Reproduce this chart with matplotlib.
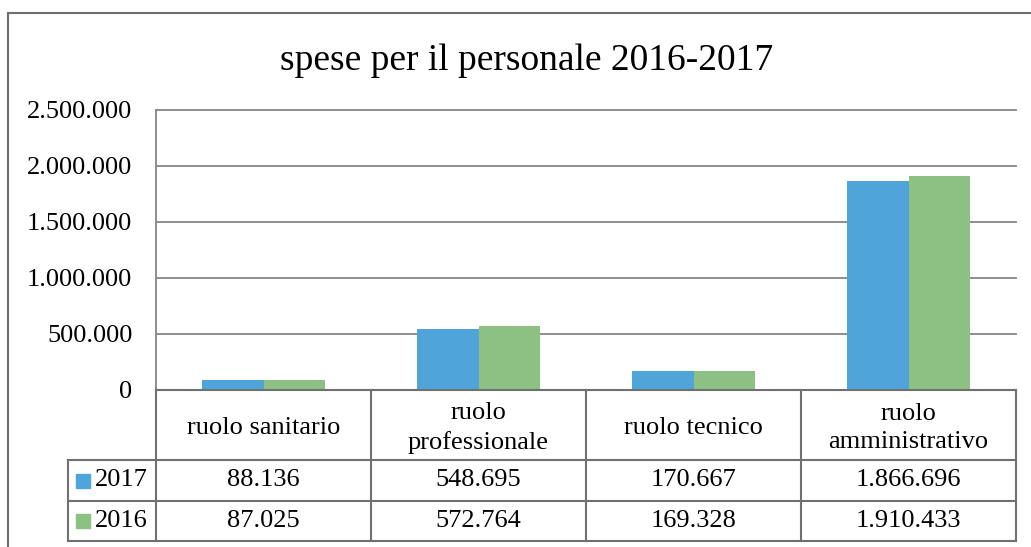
import matplotlib.pyplot as plt
from matplotlib.lines import Line2D
from matplotlib.patches import Rectangle
from matplotlib.ticker import FuncFormatter

categories = ['ruolo sanitario', 'ruolo\nprofessionale', 'ruolo tecnico', 'ruolo\namministrativo']
years = ['2017', '2016']
spese_2017 = [88136, 548695, 170667, 1866696]
spese_2016 = [87025, 572764, 169328, 1910433]
colors = ['#4FA5D9', '#8DC183']

W, H = 1031, 547


def fx(x):
    return x / W


def fy(y):
    return 1 - y / H


def it_num(v):
    return f'{int(v):,}'.replace(',', '.')


plt.rcParams['font.family'] = ['Liberation Serif', 'DejaVu Serif']

fig = plt.figure(figsize=(W / 100, H / 100), dpi=100)
left, right, top, zero = 156, 1016, 110, 390
ax = fig.add_axes([fx(left), fy(zero), fx(right) - fx(left), fy(top) - fy(zero)])

w = 1 / 3.5
xs = list(range(len(categories)))
series = [spese_2017, spese_2016]
for i, vals in enumerate(series):
    off = (i - 0.5) * w
    ax.bar([x + off for x in xs], vals, w, color=colors[i], zorder=3)

ax.set_xlim(-0.5, len(categories) - 0.5)
ax.set_ylim(0, 2500000)
ax.set_yticks(range(0, 2500001, 500000))
ax.yaxis.set_major_formatter(FuncFormatter(lambda v, p: it_num(v)))
ax.tick_params(axis='y', length=0, pad=17, labelsize=19)
ax.set_xticks([])
ax.grid(axis='y', color='#868686', lw=1.3, clip_on=False)
for s in ['top', 'right', 'bottom']:
    ax.spines[s].set_visible(False)
ax.spines['left'].set_color('#868686')
ax.spines['left'].set_linewidth(1.3)

# title
fig.text(fx(527), fy(70), 'spese per il personale 2016-2017', ha='center',
         va='baseline', fontsize=27)

# outer chart border
fig.patches.append(Rectangle((fx(8), fy(560)), fx(1040) - fx(8), fy(13) - fy(560),
                             transform=fig.transFigure, fill=False,
                             edgecolor='#6f6f6f', lw=1.5))

# data table
lc = '#707070'
col_w = (right - left) / len(categories)
rows_y = [390, 460, 501, 541]
key_x = 68


def hline(y, x0, x1):
    fig.add_artist(Line2D([fx(x0), fx(x1)], [fy(y), fy(y)], color=lc, lw=1.5))


def vline(x, y0, y1):
    fig.add_artist(Line2D([fx(x), fx(x)], [fy(y0), fy(y1)], color=lc, lw=1.5))


hline(rows_y[0], left, right)
for y in rows_y[1:]:
    hline(y, key_x, right)
vline(key_x, rows_y[1], rows_y[-1])
for j in range(len(categories) + 1):
    vline(left + j * col_w, rows_y[0], rows_y[-1])

for j, cat in enumerate(categories):
    cx = left + (j + 0.5) * col_w
    fig.text(fx(cx), fy((rows_y[0] + rows_y[1]) / 2 + 3), cat, ha='center',
             va='center', fontsize=19, linespacing=1.4)
    for i, vals in enumerate(series):
        cy = (rows_y[i + 1] + rows_y[i + 2]) / 2
        fig.text(fx(cx), fy(cy), it_num(vals[j]), ha='center',
                 va='center', fontsize=19)

for i, yr in enumerate(years):
    cy = (rows_y[i + 1] + rows_y[i + 2]) / 2
    fig.patches.append(Rectangle((fx(76), fy(cy + 7)), fx(14), 14 / H,
                                 transform=fig.transFigure, color=colors[i]))
    fig.text(fx(95), fy(cy), yr, ha='left', va='center', fontsize=19)

fig.savefig('out.png', dpi=100)
